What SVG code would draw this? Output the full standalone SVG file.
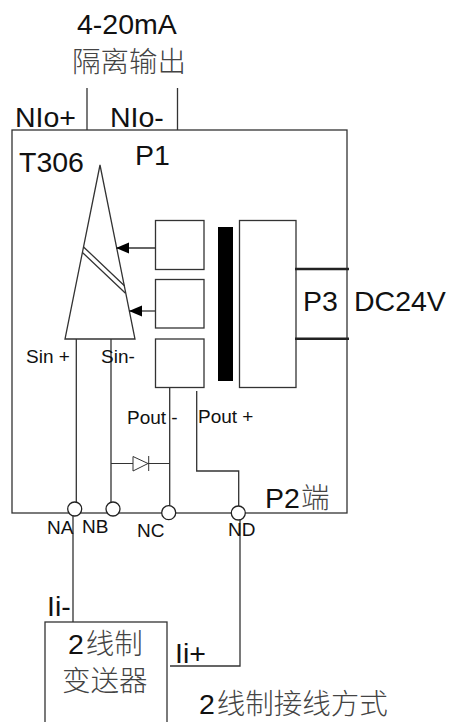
<svg xmlns="http://www.w3.org/2000/svg" width="449" height="722" viewBox="0 0 449 722">
<style>
text{font-family:"Liberation Sans",Arial,"Noto Sans CJK SC",sans-serif;fill:#111}
.cjk{font-family:"Noto Sans CJK SC",sans-serif;font-weight:300;fill:#444;font-size:28.5px}
.l{font-size:28.5px}.m{font-size:19px}
.b{fill:#fff;stroke:#333;stroke-width:1.3}
.w{fill:none;stroke:#333;stroke-width:1.3}
.d{fill:none;stroke:#333;stroke-width:1}
.t{fill:none;stroke:#222;stroke-width:2.4}
.c{fill:#fff;stroke:#222;stroke-width:1.3}
</style>
<defs>
<marker id="ah" markerUnits="userSpaceOnUse" markerWidth="14" markerHeight="12" refX="13" refY="5.5" orient="auto"><path d="M0 0L13 5.5L0 11Z" fill="#000"/></marker>
</defs>
<g id="housing"><rect class="b" x="12" y="130" width="335" height="383"/></g>
<g id="sensor">
<path class="b" d="M100 165L135 339H65Z"/>
<path class="w" d="M83.3 246.7L124.7 286M82.7 252.7L125.5 293.3"/>
</g>
<g id="box1"><rect class="b" x="155.5" y="220.5" width="48.5" height="49"/></g>
<g id="box2"><rect class="b" x="155.5" y="279.5" width="48.5" height="48.5"/></g>
<g id="box3"><rect class="b" x="155.5" y="339" width="48.5" height="48.5"/></g>
<g id="core"><rect x="218" y="227" width="15" height="154" fill="#000"/></g>
<g id="winding"><rect class="b" x="239.5" y="220.5" width="56.5" height="167"/></g>
<g id="connectors">
<path class="w" d="M87 88V130M177.5 88V130"/>
<path class="w" d="M155.5 248H116" marker-end="url(#ah)"/>
<path class="w" d="M155.5 311H129" marker-end="url(#ah)"/>
<path class="t" d="M295 269H349M295 338.7H349"/>
<path class="w" d="M76.3 339V503M111 339V503M169.7 387.5V506M196.7 391V471H238.7V506"/>
<path class="d" d="M111 463.5H133M148 463.5H170"/>
<path class="d" d="M133 456.5L148 463.5L133 471ZM148.7 456V471"/>
<path class="w" d="M73 516V622M240 516V666H170"/>
</g>
<g id="NA"><circle class="c" cx="74.7" cy="509" r="7"/></g>
<g id="NB"><circle class="c" cx="113" cy="509" r="7"/></g>
<g id="NC"><circle class="c" cx="168.7" cy="512.7" r="7"/></g>
<g id="ND"><circle class="c" cx="238.3" cy="513" r="7"/></g>
<g id="transmitter"><rect class="b" x="45" y="622" width="122" height="110"/></g>
<g id="labels">
<text class="l" x="77" y="34">4-20mA</text>
<text class="cjk" x="72" y="72">隔离输出</text>
<text class="l" x="15" y="127">NIo+</text>
<text class="l" x="110" y="127">NIo-</text>
<text class="l" x="19" y="172">T306</text>
<text class="l" x="135" y="165">P1</text>
<text class="l" x="303" y="311">P3</text>
<text class="l" x="354" y="311">DC24V</text>
<text class="m" x="26" y="363">Sin +</text>
<text class="m" x="101" y="363">Sin-</text>
<text class="m" x="127" y="424">Pout -</text>
<text class="m" x="198" y="423">Pout +</text>
<text class="l" x="265" y="508">P2<tspan class="cjk" dx="1">端</tspan></text>
<text class="m" x="47" y="534">NA</text>
<text class="m" x="82" y="533">NB</text>
<text class="m" x="137" y="537">NC</text>
<text class="m" x="228" y="536">ND</text>
<text class="l" x="47" y="616">Ii-</text>
<text class="l" x="175" y="663">Ii+</text>
<text class="l" x="68" y="654">2<tspan class="cjk" dx="2">线制</tspan></text>
<text class="cjk" x="62" y="691">变送器</text>
<text class="l" x="199" y="713.5">2<tspan class="cjk" dx="2">线制接线方式</tspan></text>
</g>
</svg>
